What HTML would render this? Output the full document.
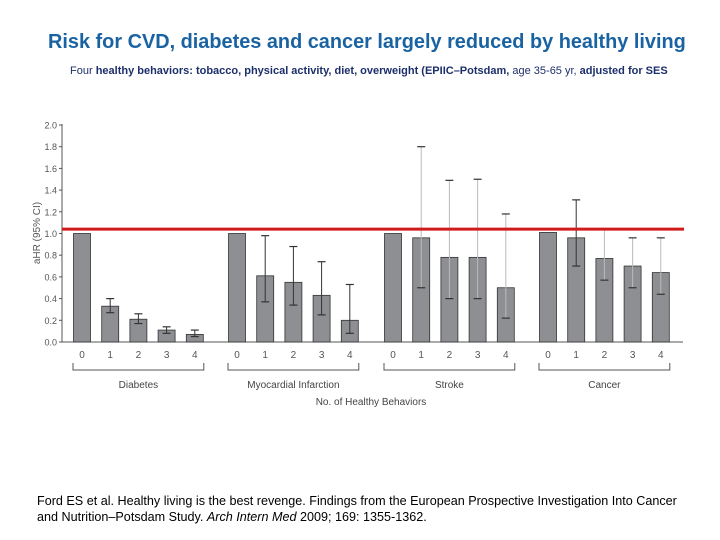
<!DOCTYPE html>
<html><head><meta charset="utf-8"><style>
body{margin:0;width:720px;height:540px;background:#fff;position:relative;overflow:hidden;font-family:"Liberation Sans",sans-serif}
.t{position:absolute;white-space:nowrap}
</style></head><body>
<div class="t" style="left:48px;top:31px;font-size:19.9px;font-weight:bold;color:#1a63a3">Risk for CVD, diabetes and cancer largely reduced by healthy living</div>
<div class="t" style="left:70px;top:65px;font-size:11px;color:#1c2f6b"><span style="font-weight:normal">Four </span><b>healthy behaviors: tobacco,  physical activity, diet, overweight (EPIIC–Potsdam,</b> age 35-65 yr, <b>adjusted for SES</b></div>
<svg width="720" height="540" style="position:absolute;left:0;top:0" id="chart"></svg>
<div class="t" style="left:37px;top:493px;font-size:12.6px;color:#000;line-height:16px">Ford ES et al.  Healthy living is the best revenge. Findings from the European Prospective Investigation Into Cancer<br>and Nutrition–Potsdam Study. <i>Arch Intern Med</i> 2009; 169: 1355-1362.</div>
<script>
const groups=["Diabetes","Myocardial Infarction","Stroke","Cancer"];
const categories=["0","1","2","3","4"];
const values=[[1,0.33,0.21,0.11,0.07],[1,0.61,0.55,0.43,0.20],[1,0.96,0.78,0.78,0.50],[1.01,0.96,0.77,0.70,0.64]];
const ciLow=[[1,0.27,0.17,0.08,0.05],[1,0.37,0.34,0.25,0.08],[1,0.50,0.40,0.40,0.22],[1.01,0.70,0.57,0.50,0.44]];
const ciHigh=[[1,0.40,0.26,0.14,0.11],[1,0.98,0.88,0.74,0.53],[1,1.80,1.49,1.50,1.18],[1.01,1.31,1.04,0.96,0.96]];
const yTicks=["0.0","0.2","0.4","0.6","0.8","1.0","1.2","1.4","1.6","1.8","2.0"];
const refLine=1.04;
const NS="http://www.w3.org/2000/svg";
const svg=document.getElementById('chart');
const y=v=>342-v*108.5;
const groupStart=[82,237,393,548], step=28.2, bw=17;
const x=(g,i)=>groupStart[g]+i*step;
function mk(tag,attrs,parent){const e=document.createElementNS(NS,tag);for(const k in attrs)e.setAttribute(k,attrs[k]);(parent||svg).appendChild(e);return e;}
let e=mk('line',{x1:62,x2:683,y1:342,y2:342,stroke:'#555','stroke-width':1});

e=mk('line',{x1:62,x2:62,y1:124,y2:342,stroke:'#555','stroke-width':1});

yTicks.forEach(t=>{const v=parseFloat(t);
 const l=mk('line',{x1:59,x2:62,y1:y(v),y2:y(v),stroke:'#555'});
 
 const tx=mk('text',{x:57,y:y(v)+3.5,'text-anchor':'end','font-size':9,fill:'#555','font-family':'Liberation Sans Narrow, Liberation Sans, sans-serif'});tx.textContent=t;
 });
e=mk('text',{transform:'translate(40,233) rotate(-90)','text-anchor':'middle','font-size':10,fill:'#555'});e.textContent='aHR (95% CI)';

groups.forEach((gn,g)=>{
 categories.forEach((c,i)=>{
  const cx=x(g,i),v=values[g][i];
  const b=mk('rect',{x:cx-bw/2,y:y(v),width:bw,height:342-y(v),fill:'#8e8f93',stroke:'#333','stroke-width':0.8});
  
  if(ciHigh[g][i]!==ciLow[g][i]){
   const dark=(g<2||g===3&&i===1);
   const col=dark?'#333':'#bbb';
   const l=mk('line',{x1:cx,x2:cx,y1:y(ciHigh[g][i]),y2:y(ciLow[g][i]),stroke:col,'stroke-width':1});
   
   [ciHigh[g][i],ciLow[g][i]].forEach(cv=>{const cap=mk('line',{x1:cx-4,x2:cx+4,y1:y(cv),y2:y(cv),stroke:'#333','stroke-width':1.2});
    });
  }
  const t=mk('text',{x:cx,y:358,'text-anchor':'middle','font-size':10,fill:'#555'});t.textContent=c;
  
 });
 const x0=x(g,0)-9,x1=x(g,4)+9;
 const br=mk('path',{d:`M${x0} 363V370H${x1}V363`,fill:'none',stroke:'#555','stroke-width':1});
 
 const gl=mk('text',{x:(x0+x1)/2,y:388,'text-anchor':'middle','font-size':10,fill:'#444'});gl.textContent=gn;
 
});
e=mk('text',{x:371,y:405,'text-anchor':'middle','font-size':10,fill:'#444'});e.textContent='No. of Healthy Behaviors';

e=mk('line',{x1:62,x2:684,y1:y(refLine),y2:y(refLine),stroke:'#d21a1a','stroke-width':3});

</script>
</body></html>
